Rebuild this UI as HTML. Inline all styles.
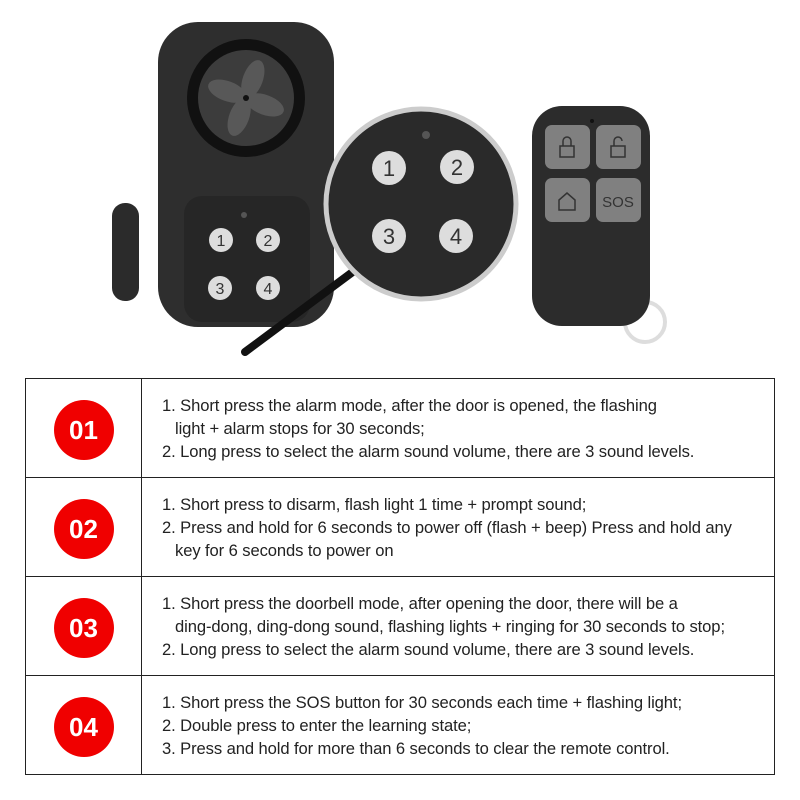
<!DOCTYPE html>
<html><head><meta charset="utf-8"><style>
body{margin:0;width:800px;height:800px;background:#fff;position:relative;font-family:"Liberation Sans","DejaVu Sans",sans-serif;overflow:hidden}
svg{position:absolute;left:0;top:0}
table{position:absolute;left:25px;top:378px;width:750px;border-collapse:collapse}
td{border:1.5px solid #222;padding:0}
td.n{width:115px;text-align:center}
.c{width:60px;height:60px;border-radius:50%;background:#f00000;color:#fff;font-weight:bold;font-size:26px;line-height:60px;margin:3px auto 0}
td.t{padding-left:20px;font-size:16.6px;line-height:23px;color:#222;letter-spacing:-0.1px}
.i{padding-left:13px}
</style></head><body>
<svg width="800" height="370" viewBox="0 0 800 370">
<rect x="112" y="203" width="27" height="98" rx="13" fill="#2b2b2b"/>
<rect x="158" y="22" width="176" height="305" rx="40" fill="#2e2e2e"/>
<circle cx="246" cy="98" r="59" fill="#111"/>
<circle cx="246" cy="98" r="48" fill="#3c3c3c"/>
<g fill="#585858">
<ellipse cx="246" cy="78" rx="10" ry="20" transform="rotate(20 246 98)"/>
<ellipse cx="246" cy="78" rx="10" ry="20" transform="rotate(110 246 98)"/>
<ellipse cx="246" cy="78" rx="10" ry="20" transform="rotate(200 246 98)"/>
<ellipse cx="246" cy="78" rx="10" ry="20" transform="rotate(290 246 98)"/>
</g>
<circle cx="246" cy="98" r="3" fill="#111"/>
<rect x="184" y="196" width="126" height="126" rx="18" fill="#262626"/>
<circle cx="244" cy="215" r="3" fill="#555"/>
<g fill="#ddd"><circle cx="221" cy="240" r="12"/><circle cx="268" cy="240" r="12"/><circle cx="220" cy="288" r="12"/><circle cx="268" cy="288" r="12"/></g>
<g font-size="16" fill="#333" text-anchor="middle"><text x="221" y="246">1</text><text x="268" y="246">2</text><text x="220" y="294">3</text><text x="268" y="294">4</text></g>
<line x1="358" y1="268" x2="245" y2="352" stroke="#111" stroke-width="8" stroke-linecap="round"/>
<circle cx="421" cy="204" r="95" fill="#2a2a2a" stroke="#ccc" stroke-width="5"/>
<circle cx="426" cy="135" r="4" fill="#555"/>
<g fill="#ddd"><circle cx="389" cy="168" r="17"/><circle cx="457" cy="167" r="17"/><circle cx="389" cy="236" r="17"/><circle cx="456" cy="236" r="17"/></g>
<g font-size="22" fill="#333" text-anchor="middle"><text x="389" y="176">1</text><text x="457" y="175">2</text><text x="389" y="244">3</text><text x="456" y="244">4</text></g>
<circle cx="645" cy="322" r="20" fill="none" stroke="#ddd" stroke-width="4"/>
<rect x="532" y="106" width="118" height="220" rx="30" fill="#2c2c2c"/>
<circle cx="592" cy="121" r="2" fill="#111"/>
<g fill="#808080"><rect x="545" y="125" width="45" height="44" rx="7"/><rect x="596" y="125" width="45" height="44" rx="7"/><rect x="545" y="178" width="45" height="44" rx="7"/><rect x="596" y="178" width="45" height="44" rx="7"/></g>
<text x="618" y="207" font-size="15" fill="#333" text-anchor="middle">SOS</text>
<g fill="none" stroke="#333" stroke-width="1.5"><rect x="560" y="146" width="14" height="11"/><path d="M563 146v-5a4 4 0 0 1 8 0v5"/><rect x="611" y="146" width="14" height="11"/><path d="M614 146v-5a4 4 0 0 1 8 0"/><path d="M559 210v-10l8-7 8 7v10z"/></g>
</svg>
<table>
<tr style="height:99px"><td class="n"><div class="c">01</div></td><td class="t">1. Short press the alarm mode, after the door is opened, the flashing<br><span class="i">light + alarm stops for 30 seconds;</span><br>2. Long press to select the alarm sound volume, there are 3 sound levels.</td></tr>
<tr style="height:99px"><td class="n"><div class="c">02</div></td><td class="t">1. Short press to disarm, flash light 1 time + prompt sound;<br>2. Press and hold for 6 seconds to power off (flash + beep) Press and hold any<br><span class="i">key for 6 seconds to power on</span></td></tr>
<tr style="height:99px"><td class="n"><div class="c">03</div></td><td class="t">1. Short press the doorbell mode, after opening the door, there will be a<br><span class="i">ding-dong, ding-dong sound, flashing lights + ringing for 30 seconds to stop;</span><br>2. Long press to select the alarm sound volume, there are 3 sound levels.</td></tr>
<tr style="height:99px"><td class="n"><div class="c">04</div></td><td class="t">1. Short press the SOS button for 30 seconds each time + flashing light;<br>2. Double press to enter the learning state;<br>3. Press and hold for more than 6 seconds to clear the remote control.</td></tr>
</table>
</body></html>
